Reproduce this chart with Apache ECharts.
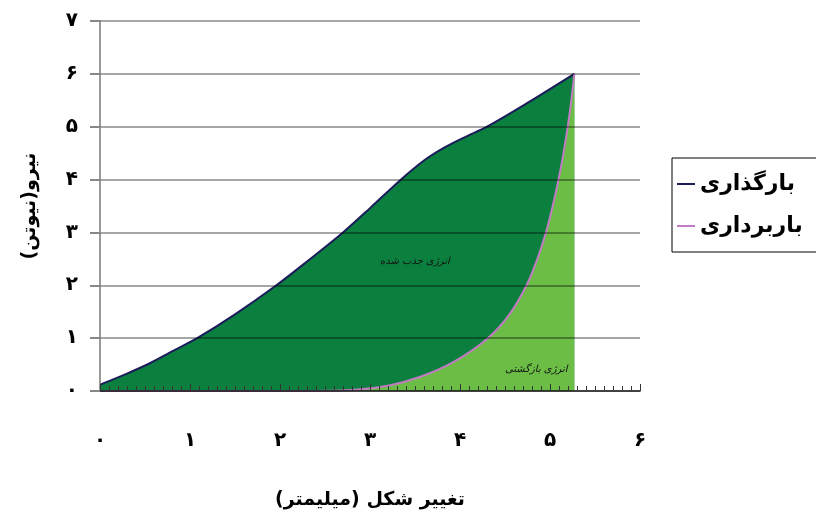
<!DOCTYPE html>
<html>
<head>
<meta charset="utf-8">
<script src="https://cdn.jsdelivr.net/npm/echarts@6/dist/echarts.min.js"></script>
<style>html,body{margin:0;padding:0;background:#fff}#c{width:816px;height:524px}</style>
</head>
<body>
<div id="c"></div>
<script>
var seriesNames = ['بارگذاری', 'باربرداری'];
var loadX = [0, 0.3, 0.56, 0.8, 1.08, 1.5, 1.96, 2.3, 2.7, 3.0, 3.33, 3.6, 3.81, 4.05, 4.3, 4.74, 5.27];
var loadY = [0.12, 0.33, 0.53, 0.75, 1.0, 1.45, 2.0, 2.45, 3.0, 3.46, 3.98, 4.36, 4.59, 4.8, 5.0, 5.44, 6.0];
var unloadX = [0, 1, 2, 2.8, 3.2, 3.56, 3.91, 4.31, 4.55, 4.74, 4.86, 4.955, 5.03, 5.095, 5.15, 5.197, 5.237, 5.27];
var unloadY = [0, 0, 0, 0.02, 0.1, 0.27, 0.53, 1.0, 1.45, 2.0, 2.5, 3.0, 3.5, 4.0, 4.5, 5.0, 5.5, 6.0];
var xTickLabels = ['۰', '۱', '۲', '۳', '۴', '۵', '۶'];
var yTickLabels = ['۰', '۱', '۲', '۳', '۴', '۵', '۶', '۷'];
var xTitle = 'تغییر شکل (میلیمتر)';
var yTitle = 'نیرو(نیوتن)';
var noteAbsorbed = 'انرژی جذب شده';
var noteReturned = 'انرژی بازگشتی';

function pairs(xs, ys) { return xs.map(function (x, i) { return [x, ys[i]]; }); }
var FONT = 'DejaVu Sans';

var chart = echarts.init(document.getElementById('c'));
chart.setOption({
  animation: false,
  backgroundColor: '#fff',
  textStyle: { fontFamily: FONT },
  grid: { left: 100, right: 176, top: 21, bottom: 133 },
  legend: {
    orient: 'vertical', left: 672, top: 158,
    backgroundColor: '#fff', borderColor: '#000', borderWidth: 1,
    padding: [15, 40, 15, 5], itemGap: 20, itemWidth: 18, itemHeight: 2,
    icon: 'rect',
    textStyle: { fontSize: 22, fontWeight: 'bold', color: '#000', fontFamily: FONT },
    data: seriesNames
  },
  xAxis: {
    type: 'value', min: 0, max: 6, interval: 1, z: 3,
    name: xTitle, nameLocation: 'middle', nameGap: 100,
    nameTextStyle: { fontSize: 19, fontWeight: 'bold', color: '#000', fontFamily: FONT },
    axisLine: { show: true, onZero: false, lineStyle: { color: '#222', width: 1.5 } },
    axisTick: { show: true, inside: true, length: 7, lineStyle: { color: '#333' } },
    minorTick: { show: true, splitNumber: 10, length: 5, lineStyle: { color: '#333' } },
    splitLine: { show: false },
    axisLabel: {
      margin: 40, fontSize: 20, fontWeight: 'bold', color: '#000', fontFamily: FONT,
      formatter: function (v) { return xTickLabels[Math.round(v)]; }
    }
  },
  yAxis: {
    type: 'value', min: 0, max: 7, interval: 1, z: 3,
    name: yTitle, nameLocation: 'middle', nameGap: 60,
    nameTextStyle: { fontSize: 19, fontWeight: 'bold', color: '#000', fontFamily: FONT },
    axisLine: { show: true, lineStyle: { color: '#777', width: 1.5 } },
    axisTick: { show: true, length: 10, lineStyle: { color: '#888', width: 2 } },
    splitLine: { show: true, lineStyle: { color: 'rgba(0,0,0,0.35)', width: 2 } },
    axisLabel: {
      margin: 22, fontSize: 20, fontWeight: 'bold', color: '#000', fontFamily: FONT,
      formatter: function (v) { return yTickLabels[Math.round(v)]; }
    }
  },
  series: [
    {
      name: seriesNames[0], type: 'line', data: pairs(loadX, loadY),
      smooth: 0.3, symbol: 'none', z: 1,
      lineStyle: { color: '#1c1c5c', width: 2 },
      itemStyle: { color: '#1c1c5c' },
      areaStyle: { color: '#0b7f3e', opacity: 1 }
    },
    {
      name: seriesNames[1], type: 'line', data: pairs(unloadX, unloadY),
      smooth: 0.3, symbol: 'none', z: 2,
      lineStyle: { color: '#c27ac4', width: 2 },
      itemStyle: { color: '#c27ac4' },
      areaStyle: { color: '#6cbd46', opacity: 1 }
    }
  ],
  graphic: [
    { type: 'text', left: 380, top: 256, z: 10,
      style: { text: noteAbsorbed, fill: '#111', font: 'italic 10px "' + FONT + '"' } },
    { type: 'text', left: 505, top: 364, z: 10,
      style: { text: noteReturned, fill: '#111', font: 'italic 10px "' + FONT + '"' } }
  ]
});
</script>
</body>
</html>
